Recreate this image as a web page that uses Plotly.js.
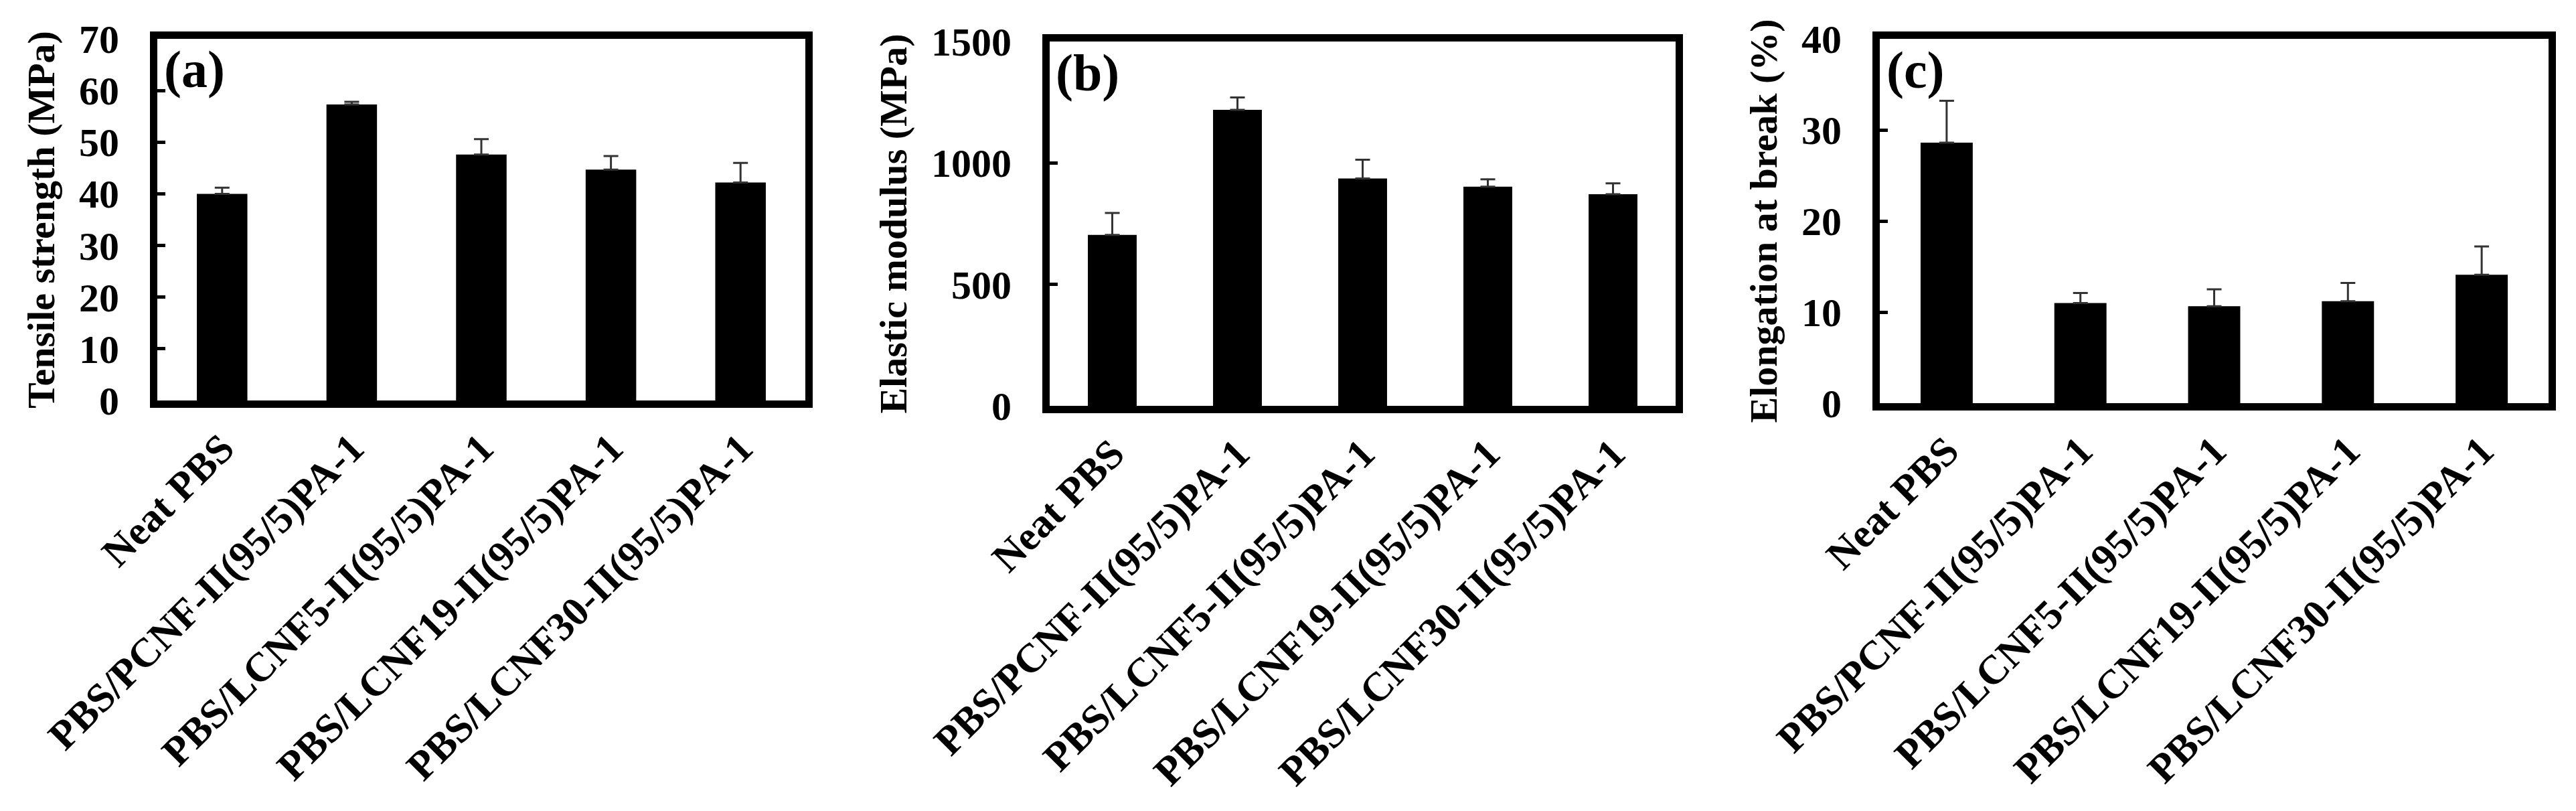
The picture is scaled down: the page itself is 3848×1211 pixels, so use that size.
<!DOCTYPE html>
<html>
<head>
<meta charset="utf-8">
<script src="https://cdn.plot.ly/plotly-3.0.1.min.js"></script>
<style>html,body{margin:0;padding:0;background:#fff;}#chart{width:3848px;height:1211px;}</style>
</head>
<body>
<div id="chart"></div>
<script>
// ---- data ----
const categories = ["Neat PBS", "PBS/PCNF-II(95/5)PA-1", "PBS/LCNF5-II(95/5)PA-1", "PBS/LCNF19-II(95/5)PA-1", "PBS/LCNF30-II(95/5)PA-1"];
const tensileStrength = [40.0, 57.3, 47.6, 44.7, 42.2];
const tensileStrengthErr = [1.2, 0.5, 3.0, 2.6, 3.8];
const elasticModulus = [704, 1219, 936, 902, 871];
const elasticModulusErr = [90, 51, 77, 31, 45];
const elongation = [28.6, 11.0, 10.65, 11.2, 14.1];
const elongationErr = [4.6, 1.1, 1.85, 2.0, 3.1];
const panelLabels = ["(a)", "(b)", "(c)"];
const yTitles = ["Tensile strength (MPa)", "Elastic modulus (MPa)", "Elongation at break (%)"];

// ---- layout helpers ----
const W = 3848, H = 1211;
const FONT = "Liberation Serif, Times New Roman, serif";
const boxes = [
  {l: 235, r: 1203, t: 58, b: 598},
  {l: 1568, r: 2503, t: 62, b: 606},
  {l: 2808, r: 3807, t: 58, b: 602}
];
const yRanges = [[0, 70], [0, 1500], [0, 40]];
const yDticks = [10, 500, 10];
const series = [
  [tensileStrength, tensileStrengthErr],
  [elasticModulus, elasticModulusErr],
  [elongation, elongationErr]
];

const traces = [];
const layout = {
  width: W, height: H,
  margin: {l: 0, r: 0, t: 0, b: 0},
  paper_bgcolor: "#fff", plot_bgcolor: "#fff",
  showlegend: false,
  bargap: 0.61,
  font: {family: FONT, color: "#000", size: 58, weight: "bold"},
  annotations: []
};

series.forEach((s, i) => {
  const n = i === 0 ? "" : String(i + 1);
  traces.push({
    type: "bar",
    x: categories,
    y: s[0],
    xaxis: "x" + n, yaxis: "y" + n,
    marker: {color: "#000", line: {width: 0}},
    error_y: {type: "data", array: s[1], symmetric: false, arrayminus: s[1].map(() => 0),
              color: "#333", thickness: 3, width: 11},
    hoverinfo: "skip"
  });
  const bx = boxes[i];
  layout["xaxis" + n] = {
    domain: [bx.l / W, bx.r / W],
    anchor: "y" + n,
    showline: true, linecolor: "#000", linewidth: 11, mirror: true,
    showgrid: false, zeroline: false, ticks: "",
    tickangle: -45,
    tickfont: {family: FONT, size: 61, color: "#000", weight: "bold"},
    fixedrange: true
  };
  layout["yaxis" + n] = {
    domain: [1 - bx.b / H, 1 - bx.t / H],
    anchor: "x" + n,
    range: yRanges[i], dtick: yDticks[i], tick0: 0,
    showline: true, linecolor: "#000", linewidth: 11, mirror: true,
    showgrid: false, zeroline: false,
    ticks: "inside", ticklen: 12, tickwidth: 5, tickcolor: "#000",
    ticklabelstandoff: 34,
    tickfont: {family: FONT, size: 60, color: "#000", weight: "bold"},
    title: {text: yTitles[i], font: {family: FONT, size: 58, color: "#000", weight: "bold"}, standoff: 22},
    fixedrange: true
  };
  layout.annotations.push({
    text: panelLabels[i],
    xref: "x" + n + " domain", yref: "y" + n + " domain",
    x: 0.008, y: 0.915, xanchor: "left", yanchor: "middle",
    showarrow: false,
    font: {family: FONT, size: 78, color: "#000", weight: "bold"}
  });
});

Plotly.newPlot("chart", traces, layout, {displayModeBar: false, staticPlot: true});
</script>
</body>
</html>
